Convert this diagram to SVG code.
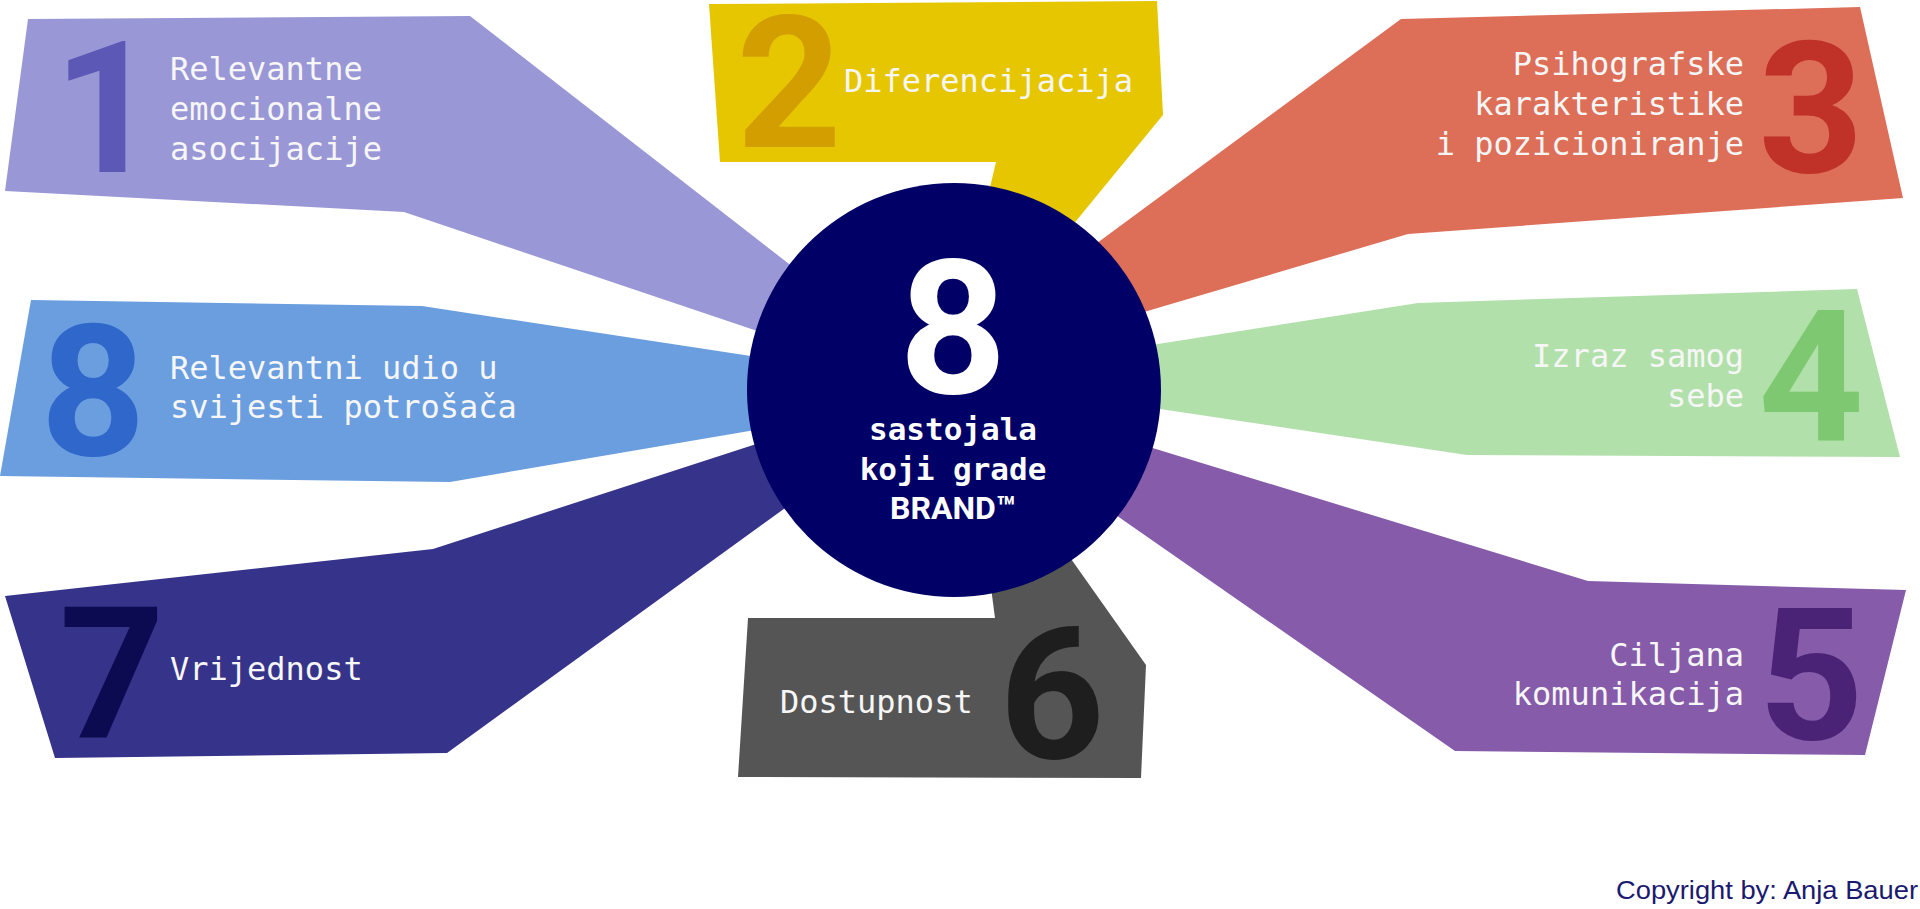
<svg xmlns="http://www.w3.org/2000/svg" width="1920" height="909" viewBox="0 0 1920 909">
<style>
.lbl{font-family:"DejaVu Sans Mono","Liberation Mono",monospace;font-size:32px;fill:#F6F6F6}
.end{text-anchor:end}
.num{font-family:Roboto,"Liberation Sans",sans-serif;font-weight:700;font-size:184px;text-anchor:middle}
.ctr{font-family:"DejaVu Sans Mono","Liberation Mono",monospace;font-weight:700;font-size:31px;fill:#FFFFFF;text-anchor:middle}
</style>
<rect width="1920" height="909" fill="#FFFFFF"/>
<g id="node1">
<polygon points="28,19 470,16 820,288 790,342 404,212 5,191" fill="#9A97D6"/>
<text class="num" x="106" y="172" fill="#5B58B6">1</text>
<text class="lbl" x="170" y="80">Relevantne</text>
<text class="lbl" x="170" y="120">emocionalne</text>
<text class="lbl" x="170" y="160">asocijacije</text>
</g>
<g id="node2">
<polygon points="709,4 1157,1 1163,115 1040,265 980,230 996,162 720,162" fill="#E6C600"/>
<text class="num" x="789" y="147" fill="#D39E00">2</text>
<text class="lbl" x="844" y="92">Diferencijacija</text>
</g>
<g id="node3">
<polygon points="1401,19 1860,7 1903,198 1408,234 1110,322 1070,263" fill="#DD6E58"/>
<text class="num" x="1811" y="172" fill="#C03127">3</text>
<text class="lbl end" x="1744" y="75">Psihografske</text>
<text class="lbl end" x="1744" y="115">karakteristike</text>
<text class="lbl end" x="1744" y="155">i pozicioniranje</text>
</g>
<g id="node4">
<polygon points="1418,303 1857,289 1900,457 1467,455 1120,403 1120,350" fill="#B1E0AA"/>
<text class="num" x="1811" y="441" fill="#7DC870">4</text>
<text class="lbl end" x="1744" y="367">Izraz samog</text>
<text class="lbl end" x="1744" y="407">sebe</text>
</g>
<g id="node5">
<polygon points="1110,435 1588,581 1906,590 1865,755 1455,751 1090,497" fill="#855BAA"/>
<text class="num" x="1811" y="739" fill="#4A2377">5</text>
<text class="lbl end" x="1744" y="666">Ciljana</text>
<text class="lbl end" x="1744" y="705">komunikacija</text>
</g>
<g id="node6">
<polygon points="748,618 995,618 990,580 1040,515 1146,665 1141,778 738,777" fill="#555555"/>
<text class="num" x="1052" y="758" fill="#1E1E1E">6</text>
<text class="lbl" x="780" y="713">Dostupnost</text>
</g>
<g id="node7">
<polygon points="790,433 433,549 5,596 55,758 447,753 810,490" fill="#36338A"/>
<text class="num" x="112" y="738" fill="#0C0B52">7</text>
<text class="lbl" x="170" y="680">Vrijednost</text>
</g>
<g id="node8">
<polygon points="31,300 422,306 790,362 790,424 450,482 0,476" fill="#6A9EDF"/>
<text class="num" x="93" y="455" fill="#2F67CB">8</text>
<text class="lbl" x="170" y="379">Relevantni udio u</text>
<text class="lbl" x="170" y="418">svijesti potrošača</text>
</g>
<g id="center">
<circle cx="954" cy="390" r="207" fill="#010066"/>
<text x="953" y="393" font-family="Roboto,'Liberation Sans',sans-serif" font-weight="700" font-size="188" fill="#FFFFFF" text-anchor="middle">8</text>
<text class="ctr" x="953" y="440">sastojala</text>
<text class="ctr" x="953" y="480">koji grade</text>
<text x="953" y="519" font-family="Roboto,'Liberation Sans',sans-serif" font-weight="700" font-size="32" fill="#FFFFFF" text-anchor="middle">BRAND™</text>
</g>
<g id="copyright">
<text x="1616" y="899" font-family="'Liberation Sans',sans-serif" font-size="26" fill="#1A1A6E" textLength="302" lengthAdjust="spacingAndGlyphs">Copyright by: Anja Bauer</text>
</g>
</svg>
